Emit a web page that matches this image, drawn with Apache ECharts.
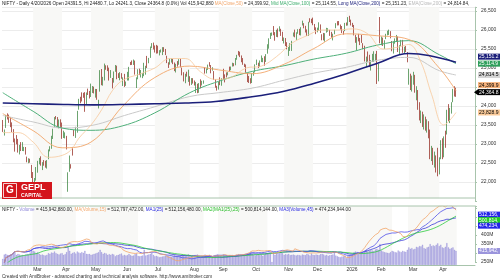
<!DOCTYPE html>
<html><head><meta charset="utf-8">
<script src="https://cdn.jsdelivr.net/npm/echarts@6/dist/echarts.min.js"></script>
<style>html,body{margin:0;padding:0;background:#fff}#c{width:500px;height:280px}</style>
</head><body><div id="c"></div>
<script>
// ---- months / bars ----
const monthNames = ['Feb','Mar','Apr','May','Jun','Jul','Aug','Sep','Oct','Nov','Dec','2026','Feb','Mar','Apr'];
const monthBars  = [20,19,19,21,21,23,19,22,21,19,22,20,21,20,12];
const blankBars = 12;

// ---- OHLC ----
const open = [
23530,23320,23510,23800,23761,23649,23543,23383,23050,23055,23097,22810,23000,22847,22821,22857,22610,22516,22568,22433,
22195,21915,22073,22476,22509,22521,22345,22536,22541,22353,22662,22874,22908,23174,23515,23688,23701,23433,23600,
23342,23192,23150,23190,21758,22446,22460,22858,23368,23193,23401,23949,24185,24357,24277,24290,24070,24370,24342,
24311,24419,24500,24234,24431,23935,24420,24864,24613,24694,25064,25005,24996,24745,24733,24639,24919,24956,24832,24726,24812,
24669,24786,24560,24691,24748,25160,25197,25134,25164,24474,24732,24977,24788,24787,24787,24939,25179,25150,25268,25577,25661,
25551,25588,25505,25428,25450,25428,25514,25473,25255,25149,25090,25197,25231,25108,24999,25166,25139,25244,25010,24782,24609,24890,24642,
24735,24566,24720,24640,24464,24544,24371,24627,24586,24607,25019,24904,24981,25142,25064,24949,24899,24695,24466,
24432,24653,24579,24818,24819,24802,24864,24991,24945,25074,25118,25074,25276,25441,25410,25238,25209,25108,25034,24818,24728,24691,
24620,24880,24902,25085,25107,25074,25167,25182,25244,25182,25394,25546,25824,25843,26057,25935,25844,25939,25982,25984,25864,
25695,25744,25593,25433,25503,25516,25834,25906,25802,25924,26021,25900,26133,26132,26067,25998,25842,26262,26216,
26325,26144,25989,25998,26056,26124,25888,25886,25753,25966,25965,26000,25902,25764,25912,26055,26205,26170,26121,26064,25940,25971,
26173,26155,26333,26189,26143,26107,25840,25669,25788,25740,25696,25654,25580,25141,25344,25344,25063,25258,25345,25247,
25330,24850,26300,25700,25750,25600,25780,25910,25930,25950,25700,25450,25690,25760,25800,25400,25600,25720,25450,25510,25400,
24650,24800,24450,24700,24780,24300,24400,23950,23700,23800,23500,23650,23450,23550,23350,22700,22850,22600,22650,22850,
22300,22700,23000,22750,23200,23300,23850,23700,23950,24150,24380,24391.5];
const high = [
23632,23381,23762,23807,23773,23695,23569,23391,23144,23235,23134,22975,23050,23049,22924,22921,22668,22625,22613,22450,
22262,22105,22394,22557,22633,22676,22522,22577,22558,22577,22857,22941,23216,23402,23708,23736,23709,23646,23650,
23565,23350,23306,23214,22255,22697,22468,22923,23368,23453,23872,24189,24242,24359,24347,24365,24355,24457,24396,
24589,24526,24510,24449,24447,24164,24944,24973,24767,25116,25071,25070,25010,24946,24737,24909,25079,25062,24864,24892,24864,
24754,24845,24644,24899,25030,25160,25199,25223,25196,24754,24968,24982,24947,24863,25137,25058,25318,25266,25565,25655,25669,
25593,25608,25587,25470,25489,25549,25548,25501,25322,25151,25245,25256,25238,25145,25111,25182,25233,25246,25010,24889,24848,24902,24956,
24784,24734,24733,24671,24634,24586,24603,24702,24664,24673,25022,24990,25089,25154,25078,25021,24919,24702,24532,
24636,24756,24730,24980,24832,24885,24891,25037,25038,25139,25127,25262,25346,25449,25429,25331,25261,25115,25093,24868,24791,24731,
24867,24905,25095,25221,25139,25199,25330,25267,25310,25365,25625,25781,25926,25935,26104,25944,26005,26041,26098,26032,25953,
25803,25788,25679,25551,25653,25715,25935,26010,25940,26022,26030,26074,26246,26180,26110,26016,26215,26310,26295,
26326,26159,26070,26062,26203,26147,25888,25923,25916,26057,26048,26003,25951,25903,26007,26180,26233,26236,26144,26105,25976,26187,
26197,26340,26373,26273,26188,26133,25873,25813,25899,25791,25873,25654,25585,25300,25435,25348,25206,25372,25441,25372,
25450,25110,26341,25830,25800,25730,25900,25980,26010,25970,25710,25700,25780,25870,25830,25600,25740,25740,25560,25580,25420,
24980,24850,24800,24900,24820,24520,24420,24100,23880,23850,23780,23720,23650,23600,23380,22950,22900,22800,22700,22900,
22650,23100,23150,23200,23350,23900,24050,23950,24100,24450,24520,24480.7];
const low = [
23318,23222,23423,23645,23556,23443,23316,23045,22799,22992,22774,22725,22814,22815,22812,22720,22518,22494,22508,22105,
21965,21964,22037,22245,22465,22429,22314,22429,22378,22353,22599,22807,22874,23132,23451,23647,23451,23412,23450,
23136,23158,23146,22857,21743,22270,22353,22695,23207,23161,23298,23903,24072,24119,24216,23847,24054,24290,24198,
24238,24343,24331,24220,24164,23935,24378,24547,24535,24672,24953,24918,24669,24739,24463,24614,24900,24704,24737,24677,24717,
24527,24502,24530,24671,24671,25077,25081,25081,24826,24473,24703,24813,24751,24733,24784,24825,24999,25125,25266,25523,25489,
25407,25379,25384,25331,25407,25340,25424,25340,25129,25001,25089,25142,25101,24918,24882,25036,25085,25018,24806,24646,24599,24772,24635,
24535,24554,24590,24539,24344,24337,24347,24465,24540,24586,24852,24858,24950,25038,24860,24931,24689,24482,24405,
24432,24548,24533,24700,24621,24751,24806,24915,24940,25038,25045,25071,25217,25329,25287,25152,25084,25027,24878,24629,24606,24588,
24605,24797,24882,25076,24999,25024,25156,25152,25060,25159,25377,25508,25764,25847,25862,25718,25818,25810,25960,25845,25711,
25645,25578,25491,25318,25449,25449,25828,25808,25740,25901,25864,25856,26119,26044,25935,25842,25842,26201,26180,
26126,25997,25891,25938,25985,25923,25729,25728,25693,25930,25954,25845,25800,25726,25888,26047,26119,26123,26009,25920,25878,25969,
26113,26118,26210,26119,26080,25858,25663,25473,25700,25603,25660,25495,25172,25025,25168,25025,24932,25160,25159,25180,
24580,24650,25650,25600,25580,25500,25760,25860,25870,25780,25440,25380,25640,25700,25420,25350,25580,25400,25380,25420,25150,
24560,24420,24380,24560,24350,24150,23900,23620,23550,23450,23380,23350,23300,23150,22600,22550,22450,22380,22250,22150,
22200,22600,22600,22650,22900,23250,23600,23550,23800,24100,24250,24241.3];
const close = [
23482,23361,23739,23696,23603,23560,23381,23071,23045,23031,22929,22959,22945,22932,22913,22795,22553,22547,22545,22125,
22119,22083,22337,22545,22553,22461,22498,22471,22397,22509,22834,22907,23191,23350,23658,23669,23487,23592,23519,
23165,23332,23250,22904,22162,22536,22399,22829,23329,23437,23852,24125,24167,24329,24247,24039,24328,24336,24334,
24347,24461,24380,24414,24273,24008,24925,24578,24667,25062,25020,24945,24683,24813,24610,24853,25001,24826,24752,24833,24751,
24717,24543,24621,24751,25003,25103,25105,25141,24888,24719,24947,24853,24812,24793,25112,24972,25044,25245,25549,25637,25517,
25542,25453,25405,25461,25461,25523,25476,25355,25150,25082,25196,25212,25112,24968,25091,25061,25220,25062,24837,24681,24821,24855,24768,
24565,24723,24650,24574,24596,24363,24585,24487,24619,24631,24877,24980,25051,25084,24870,24968,24712,24501,24427,
24625,24580,24716,24734,24741,24773,24869,24973,25006,25114,25069,25239,25330,25424,25327,25203,25170,25057,24891,24655,24635,24611,
24837,24894,25078,25108,25046,25182,25285,25227,25146,25324,25586,25710,25843,25869,25891,25795,25966,25936,26054,25878,25722,
25763,25598,25510,25492,25574,25695,25876,25879,25910,26013,25910,26052,26192,26068,25960,25885,26205,26216,26203,
26176,26032,25986,26034,26186,25961,25840,25758,25898,26047,26027,25860,25818,25816,25966,26172,26177,26142,26042,25942,25939,26130,
26147,26328,26250,26178,26140,25877,25683,25790,25732,25665,25694,25585,25232,25157,25290,25048,25175,25342,25418,25320,
24825,25088,25727,25776,25642,25694,25867,25935,25954,25807,25471,25682,25725,25819,25454,25571,25713,25425,25482,25496,25179,
24890,24480,24760,24840,24420,24450,23960,23680,23820,23520,23700,23420,23580,23200,22650,22880,22520,22700,22330,22200,
22580,23050,22700,23150,22980,23850,23700,23900,24050,24400,24360,24364.8];
// volume in millions
const volume = [
180,310,330,300,290,310,320,350,380,300,330,310,290,300,280,310,330,320,370,450,
420,400,350,380,330,300,310,290,280,300,350,330,370,360,400,350,330,310,340,
350,300,320,380,520,420,330,360,380,340,400,370,350,380,360,420,330,320,330,
300,310,330,340,360,380,450,380,330,360,340,300,320,300,330,310,260,290,300,320,340,
280,300,280,290,330,290,270,280,320,340,270,260,270,280,450,280,300,310,330,360,300,
260,270,250,230,240,250,260,270,280,260,250,240,260,280,270,250,260,270,300,280,290,280,320,
300,270,280,290,300,310,260,250,260,280,310,290,280,300,280,250,290,300,320,
300,280,290,310,280,260,270,290,280,300,260,290,310,320,300,290,310,320,330,340,310,380,
330,290,280,300,310,290,300,270,300,320,350,340,330,90,380,300,330,320,340,380,350,
300,320,310,330,290,300,310,290,280,300,290,280,310,300,290,330,310,280,340,
300,290,310,300,290,320,330,310,280,300,270,290,300,310,380,280,260,240,230,250,260,280,
200,280,300,310,320,380,400,390,360,350,340,360,420,450,400,420,440,430,410,460,
480,450,620,430,400,380,370,360,350,380,420,400,380,370,430,400,380,420,400,390,450,
520,480,500,460,480,540,520,560,550,600,500,480,520,540,620,560,580,560,600,640,
560,600,520,500,540,650,520,480,500,520,450,416];

// ---- indicator lines: [barIndex, value] ----
const ma20Pts  = [[0,23300],[10,23300],[20,23050],[30,22650],[39,22700],[45,22850],[50,23150],[58,23500],[65,23900],[72,24400],[79,24680],[90,24840],[100,25000],[110,25250],[120,25250],[130,24900],[140,24700],[150,24750],[160,25000],[170,25050],[180,25300],[190,25650],[200,25850],[210,26000],[220,26000],[230,26030],[240,25900],[250,25500],[260,25550],[267,25620],[275,25150],[282,24300],[290,23500],[298,23829]];
const ma50Pts  = [[0,23800],[20,23350],[39,22900],[58,23050],[79,24000],[100,24750],[123,25050],[142,24950],[164,24850],[185,25100],[204,25500],[226,25900],[246,25850],[267,25750],[287,25000],[298,24400]];
const ma100Pts = [[0,24350],[20,23860],[39,23420],[58,23360],[79,23480],[100,23820],[123,24350],[142,24650],[164,24910],[185,25060],[204,25230],[226,25390],[246,25600],[267,25720],[287,25350],[298,25114]];
const ma200Pts = [[0,24080],[20,24060],[40,24040],[60,24030],[80,24040],[100,24060],[120,24080],[140,24120],[160,24220],[185,24390],[205,24600],[226,24850],[246,25120],[267,25380],[280,25330],[298,25151]];
const ema200Pts= [[0,23750],[20,23580],[40,23420],[60,23500],[80,23750],[100,23980],[123,24250],[142,24350],[164,24470],[185,24680],[204,24860],[226,25020],[246,25200],[267,25280],[287,24930],[298,24815]];

// ---- right-side value tags (text as shown) ----
const priceTags = [
  {v:25151.23, t:'25,151.2', bg:'#1b1f7a', fg:'#fff'},
  {v:25114.55, t:'25,114.9', bg:'#2f9e5b', fg:'#fff'},
  {v:24814.84, t:'24,814.5', bg:'#d4d4d4', fg:'#000'},
  {v:24399.92, t:'24,399.9', bg:'#f7b27a', fg:'#000'},
  {v:24364.8,  t:'24,364.8', bg:'#000000', fg:'#fff', arrow:true},
  {v:23828.9,  t:'23,828.9', bg:'#fbcb9a', fg:'#000'}
];
const volTags = [
  {v:512.156, t:'512,156,', bg:'#2424e8', fg:'#fff'},
  {v:500.814, t:'500,814,', bg:'#22cc22', fg:'#fff'},
  {v:474.234, t:'474,234,', bg:'#2424e8', fg:'#fff'}
];

// ---- build ----
const cats = [], monthStart = new Set(), monthRanges = [];
monthBars.forEach((n,k)=>{ monthRanges.push([cats.length, cats.length+n-1]); for(let d=0; d<n; d++){ if(d===0) monthStart.add(cats.length); cats.push(k+'_'+d);} });
for(let i=0;i<blankBars;i++) cats.push('b'+i);
const monthOfIdx = cats.map(c=> c[0]==='b' ? -1 : +c.split('_')[0]);
const candle = close.map((c,i)=>[open[i], c, low[i], high[i]]);
function sma(a,n){return a.map((_,i)=>{const s=Math.max(0,i-n+1);let t=0;for(let j=s;j<=i;j++)t+=a[j];return t/(i-s+1);});}
const vMA15 = sma(volume,15), vMA25 = sma(volume,25), vMA2 = sma(vMA25,25), vMA45 = sma(volume,45);
const bands = monthRanges.filter((r,k)=>k%2===1).map(r=>[{xAxis:cats[r[0]]},{xAxis:cats[Math.min(r[1]+1,cats.length-1)]}]);
const bandStyle = {silent:true, itemStyle:{color:'#f8f8f6'}, data:bands};

const FONT = 'Liberation Sans';
const xLab = {fontSize:5, fontFamily:FONT, color:'#333', align:'left', interval:(i)=>monthStart.has(i)&&i>0, formatter:(v)=>{const i=cats.indexOf(v);return monthNames[monthOfIdx[i]];}};

const chart = echarts.init(document.getElementById('c'), null, {width:500, height:280});
const lineS = (name, pts, color, w, xi, yi) => ({name, type:'line', data:pts, xAxisIndex:xi, yAxisIndex:yi, smooth:0.4, showSymbol:false, symbol:'none', lineStyle:{color, width:w}, z:3, silent:true});

chart.setOption({
  animation:false,
  grid:[
    {left:2, top:7.2, width:473, height:193.8},
    {left:2, top:206, width:473, height:56},
    {left:2, top:206, width:473, height:59}
  ],
  xAxis:[
    {type:'category', data:cats, gridIndex:0, boundaryGap:true, axisLine:{show:false}, axisTick:{show:false},
     axisLabel:Object.assign({margin:-2}, xLab), splitLine:{show:false}},
    {type:'category', data:cats, gridIndex:1, boundaryGap:true, show:false},
    {type:'category', data:cats, gridIndex:2, boundaryGap:true, axisLine:{show:true, lineStyle:{color:'#a8c4ac', width:1}}, axisTick:{show:false},
     axisLabel:Object.assign({margin:2}, xLab)}
  ],
  yAxis:[
    {type:'value', gridIndex:0, position:'right', min:21500, max:26600, interval:500,
     axisLine:{show:true, lineStyle:{color:'#a8c4ac'}}, axisTick:{show:true, length:2, lineStyle:{color:'#a8c4ac'}},
     axisLabel:{fontSize:5, fontFamily:FONT, color:'#333', margin:6, formatter:v=> (v>=22000 && v<=26500 && v%500===0) ? v.toLocaleString('en-US') : ''},
     splitLine:{show:true, lineStyle:{color:'#ececec', width:1}}},
    {type:'value', gridIndex:1, position:'right', min:250, max:560, interval:50,
     axisLine:{show:true, lineStyle:{color:'#a8c4ac'}}, axisTick:{show:true, length:2, lineStyle:{color:'#a8c4ac'}},
     axisLabel:{fontSize:5, fontFamily:FONT, color:'#333', margin:6, formatter:v=> (v%50===0 && v<=500) ? v+'M' : ''},
     splitLine:{show:false}},
    {type:'value', gridIndex:2, min:0, max:1750, show:false}
  ],
  series:[
    {type:'candlestick', data:candle, xAxisIndex:0, yAxisIndex:0, barWidth:'75%', z:2, markArea:bandStyle,
     itemStyle:{color:'#5cb85c', color0:'#c8372d', borderColor:'#2e7d32', borderColor0:'#8e1c12', borderWidth:0.7}},
    lineS('ema200', ema200Pts, '#c9c9c9', 1, 0, 0),
    lineS('ma100', ma100Pts, '#4fb07a', 1, 0, 0),
    lineS('ma50', ma50Pts, '#f2a66a', 0.9, 0, 0),
    lineS('ma20', ma20Pts, '#f7c99c', 0.8, 0, 0),
    lineS('ma200', ma200Pts, '#1b1f7a', 1.6, 0, 0),
    {type:'bar', data:volume, xAxisIndex:2, yAxisIndex:2, barWidth:'70%', itemStyle:{color:'#b3afe8', borderColor:'#8a84d4', borderWidth:0.3}, z:1, silent:true, markArea:bandStyle},
    {type:'line', data:vMA45, xAxisIndex:1, yAxisIndex:1, showSymbol:false, lineStyle:{color:'#3a3ad8', width:0.8}, z:3},
    {type:'line', data:vMA2,  xAxisIndex:1, yAxisIndex:1, showSymbol:false, lineStyle:{color:'#2ecc40', width:0.8}, z:3},
    {type:'line', data:vMA25, xAxisIndex:1, yAxisIndex:1, showSymbol:false, lineStyle:{color:'#5050e8', width:0.8}, z:3},
    {type:'line', data:vMA15, xAxisIndex:1, yAxisIndex:1, showSymbol:false, lineStyle:{color:'#f2a66a', width:0.8}, z:3}
  ]
});

// ---- overlays: headers, tags, logo, footer ----
const g = [];
const hdrRich = {a:{fill:'#222'}, o:{fill:'#f2a66a'}, g:{fill:'#3fae6e'}, n:{fill:'#1b1f7a'}, s:{fill:'#b8b8b8'}, v:{fill:'#8d86d8'}, b:{fill:'#2a2ae0'}, gg:{fill:'#22bb22'}};
g.push({type:'text', x:2, y:1.5, z:50, style:{text:'{a|NIFTY - Daily 4/20/2026 Open 24391.5, Hi 24480.7, Lo 24241.3, Close 24364.8 (0.0%) Vol 415,942,880 }{o|MA(Close,50)}{a| = 24,399.92, }{g|Mid MA(Close,100)}{a| = 25,114.55, }{n|Long MA(Close,200)}{a| = 25,151.23, }{s|EMA(Close,200)}{a| = 24,814.84,}', fontSize:4.6, fontFamily:FONT, rich:hdrRich}});
g.push({type:'text', x:2, y:207, z:50, style:{text:'{a|NIFTY - }{v|Volume}{a| = 415,942,880.00, }{o|MA(Volume,15)}{a| = 512,797,472.00, }{b|MA1(25)}{a| = 512,156,480.00, }{gg|MA2(MA1(25),25)}{a| = 500,814,144.00, }{b|MA3(Volume,45)}{a| = 474,234,944.00}', fontSize:4.6, fontFamily:FONT, rich:hdrRich}});
g.push({type:'line', z:40, shape:{x1:0,y1:198,x2:475,y2:198}, style:{stroke:'#a8c4ac', lineWidth:1}});
g.push({type:'line', z:40, shape:{x1:0,y1:206,x2:475,y2:206}, style:{stroke:'#a8c4ac', lineWidth:1}});
g.push({type:'rect', z:39, shape:{x:0,y:198.5,width:475,height:7}, style:{fill:'#fff'}});

function tags(list, yAxisIndex, gap, dir){
  const ys = list.map(o=>chart.convertToPixel({yAxisIndex}, o.v));
  const out = ys.slice();
  if(dir<0){ for(let i=out.length-2;i>=0;i--) out[i]=Math.min(out[i], out[i+1]-gap); }
  else { for(let i=1;i<out.length;i++) out[i]=Math.max(out[i], out[i-1]+gap); }
  list.forEach((o,i)=>{
    const y = out[i];
    if(o.arrow) g.push({type:'polygon', z:60, shape:{points:[[474,y],[478,y-3],[478,y+3]]}, style:{fill:o.bg}});
    g.push({type:'rect', z:60, shape:{x:478,y:y-3,width:22,height:6}, style:{fill:o.bg}});
    g.push({type:'text', z:61, x:479, y:y, style:{text:o.t, fill:o.fg, fontSize:5, fontFamily:FONT, verticalAlign:'middle'}});
  });
}
tags(priceTags, 0, 7, -1);
tags(volTags, 1, 5.5, 1);
{ const y = chart.convertToPixel({yAxisIndex:2}, 415.94);
  g.push({type:'rect', z:60, shape:{x:478,y:y-3,width:22,height:6}, style:{fill:'#9a94dc'}});
  g.push({type:'text', z:61, x:479, y:y, style:{text:'415,942,', fill:'#fff', fontSize:5, fontFamily:FONT, verticalAlign:'middle'}}); }
g.push({type:'rect', z:45, shape:{x:2,y:182,width:50,height:17}, style:{fill:'#d4151c'}});
g.push({type:'rect', z:46, shape:{x:3.5,y:183.5,width:13,height:14}, style:{fill:'#d4151c', stroke:'#fff', lineWidth:0.8}});
g.push({type:'text', z:47, x:10, y:190.5, style:{text:'G', fill:'#fff', fontSize:10, fontWeight:'bold', fontFamily:FONT, align:'center', verticalAlign:'middle'}});
g.push({type:'text', z:47, x:21, y:188, style:{text:'GEPL', fill:'#fff', fontSize:9, fontWeight:'bold', fontFamily:FONT, verticalAlign:'middle'}});
g.push({type:'text', z:47, x:21, y:195.5, style:{text:'CAPITAL', fill:'#fff', fontSize:5, fontWeight:'bold', fontFamily:FONT, verticalAlign:'middle'}});
g.push({type:'text', z:50, x:2, y:274, style:{text:'Created with AmiBroker - advanced charting and technical analysis software. http://www.amibroker.com', fill:'#333', fontSize:4.6, fontFamily:FONT}});
chart.setOption({graphic:g});
</script></body></html>
